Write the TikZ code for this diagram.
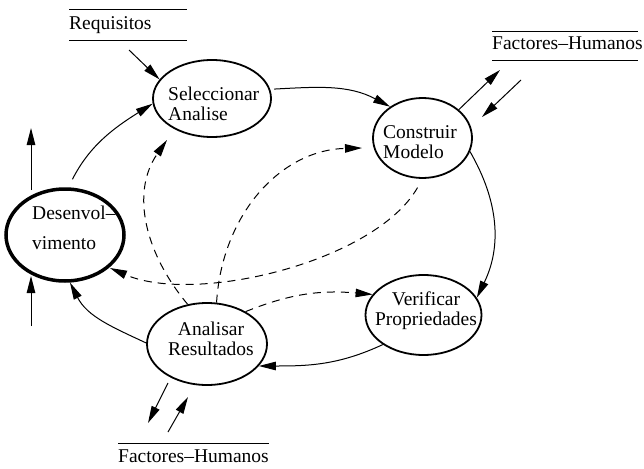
\documentclass[tikz,border=0pt]{standalone}
\usepackage{fontspec}
\setmainfont{Liberation Serif}
\usetikzlibrary{arrows.meta,shapes.geometric}
\begin{document}
\begin{tikzpicture}[x=1pt,y=-1pt,
  every node/.style={font=\fontsize{19.5}{20}\selectfont, inner sep=0pt},
  proc/.style={ellipse, draw, line width=1.8pt},
  arr/.style={line width=1pt, -{Triangle[length=17pt,width=8.5pt]}},
  darr/.style={arr, dash pattern=on 8pt off 6pt},
  rule/.style={line width=1pt}]
\useasboundingbox (0,0) rectangle (644,468);

% process ellipses
\node[proc, minimum width=118pt, minimum height=77pt] (sel) at (212,98.5) {};
\node[anchor=west, align=left] (selt) at (168,106) {\strut Seleccionar\\\strut Analise};
\node[proc, minimum width=99pt, minimum height=80pt] (con) at (422.5,138) {};
\node[anchor=west, align=left] (cont) at (383,144) {\strut Construir\\\strut Modelo};
\node[proc, minimum width=116pt, minimum height=80pt] (ver) at (423.5,315) {};
\node[align=center] (vert) at (426,311) {\strut Verificar\\\strut Propriedades};
\node[proc, minimum width=120pt, minimum height=82pt] (ana) at (207,344) {};
\node[align=center] (anat) at (211,341) {\strut Analisar\\\strut Resultados};
\node[proc, line width=3.5pt, minimum width=118pt, minimum height=92pt] (des) at (65,235) {};
\node[anchor=west, align=left] (dest) at (32,230) {\strut Desenvol\textendash\\[10pt]\strut vimento};

% external labels
\node[anchor=west, minimum width=118pt, minimum height=30pt, text width=118pt, align=left] (req) at (69,25) {Requisitos};
\draw[rule] (req.north west) -- (req.north east);
\draw[rule] (req.south west) -- (req.south east);
\node[anchor=base west] (fht) at (492,50) {Factores\textendash Humanos};
\draw[rule] ([yshift=6pt,xshift=0pt]fht.north west) -- ([yshift=6pt,xshift=-5pt]fht.north east);
\draw[rule] ([yshift=-10pt]fht.south west -| fht.west) -- ([yshift=-10pt,xshift=-5pt]fht.south east);
\node[anchor=base west] (fhb) at (118,462) {Factores\textendash Humanos};
\draw[rule] ([yshift=6pt]fhb.north west) -- ([yshift=6pt]fhb.north east);

% free ends
\coordinate (reqs) at (129,50);
\coordinate (up1) at (31,190);
\coordinate (up2) at (31,128);
\coordinate (lo1) at (31,326);
\coordinate (lo2) at (31,276);
\coordinate (fhtA) at (500,70);
\coordinate (fhtB) at (521,80);
\coordinate (conB) at (482,117);
\coordinate (anaA) at (168,383);
\coordinate (fhbA) at (148,423);
\coordinate (fhbB) at (168,432);
\coordinate (anaB) at (188,397);
\coordinate (selD) at (167,140);
\coordinate (conD) at (362,148);
\coordinate (desD) at (110,268);

% solid connectors
\draw[arr] (reqs) -- (sel.160);
\draw[arr, shorten <=9pt] (des.86) to[out=63,in=212] (sel.185);
\draw[arr, shorten <=4pt] (sel.9) to[out=3,in=152] (con.136);
\draw[arr] (con.-16) to[out=-60,in=64] (ver.18);
\draw[arr] (ver.216) to[out=205,in=0] (ana.-23);
\draw[arr] (ana.179) to[out=155,in=-63] (des.-84);
\draw[arr] (up1) -- (up2);
\draw[arr] (lo1) -- (lo2);
\draw[arr] (con.38) -- (fhtA);
\draw[arr] (fhtB) -- (conB);
\draw[arr] (anaA) -- (fhbA);
\draw[arr] (fhbB) -- (anaB);

% dashed connectors
\draw[darr] (ana.116) to[out=130,in=235] (selD);
\draw[darr] (ana.77) .. controls (222,215) and (280,150) .. (conD);
\draw[darr, shorten <=10pt] (con.270) .. controls (375,262) and (195,305) .. (desD);
\draw[darr] (ana.40) to[out=22,in=175] (ver.158);
\end{tikzpicture}
\end{document}
